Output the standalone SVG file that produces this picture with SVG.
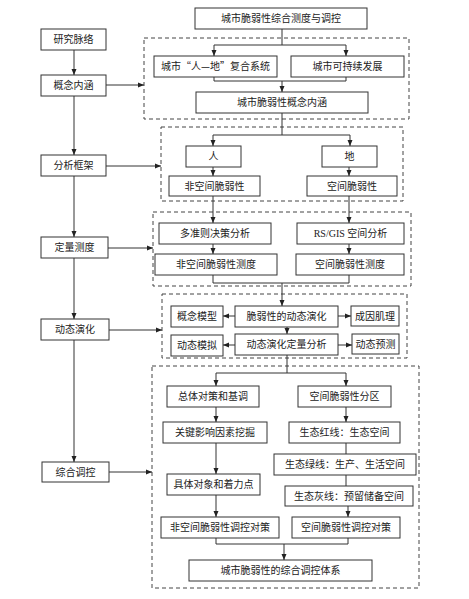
<svg xmlns="http://www.w3.org/2000/svg" width="469" height="599" viewBox="0 0 469 599">
<style>
.b{fill:#fff;stroke:#333;stroke-width:1}
.d{fill:none;stroke:#444;stroke-width:1;stroke-dasharray:4,3}
.t{font-family:"Liberation Serif","Noto Sans CJK SC",serif;font-size:10px;fill:#222;text-anchor:middle}
.cjk{font-family:"Noto Sans CJK SC",sans-serif}
.c path{fill:none;stroke:#333;stroke-width:1}
</style>
<defs>
<marker id="a" markerWidth="6" markerHeight="6" refX="6" refY="3" orient="auto" markerUnits="userSpaceOnUse">
<path d="M0,0.5 L6,3 L0,5.5 Z" fill="#222"/>
</marker>
</defs>
<rect width="469" height="599" fill="#fff"/>
<g id="frames">
<rect class="d" x="144" y="38" width="265" height="81"/>
<rect class="d" x="161" y="127" width="242" height="74"/>
<rect class="d" x="153" y="212" width="258" height="74"/>
<rect class="d" x="162" y="294" width="245" height="64"/>
<rect class="d" x="152" y="366" width="267" height="222"/>
</g>
<g class="c" id="connectors">
<path d="M282 29V45M214 45H346"/>
<path d="M214 45V56" marker-end="url(#a)"/>
<path d="M346 45V56" marker-end="url(#a)"/>
<path d="M214 77V81H346V77"/>
<path d="M282 81V92" marker-end="url(#a)"/>
<path d="M282 113V135M213 135H350"/>
<path d="M213 135V146" marker-end="url(#a)"/>
<path d="M350 135V146" marker-end="url(#a)"/>
<path d="M213 167V176" marker-end="url(#a)"/>
<path d="M349 167V176" marker-end="url(#a)"/>
<path d="M213 196V223" marker-end="url(#a)"/>
<path d="M349 196V223" marker-end="url(#a)"/>
<path d="M213 244V254" marker-end="url(#a)"/>
<path d="M349 244V254" marker-end="url(#a)"/>
<path d="M213 275V283H349V275"/>
<path d="M282 283V306" marker-end="url(#a)"/>
<path d="M235 316H223" marker-end="url(#a)"/>
<path d="M338 316H351" marker-end="url(#a)"/>
<path d="M287 327V334" marker-end="url(#a)"/>
<path d="M235 345H223" marker-end="url(#a)"/>
<path d="M338 345H352" marker-end="url(#a)"/>
<path d="M287 355V373M216 373H346"/>
<path d="M216 373V386" marker-end="url(#a)"/>
<path d="M346 373V386" marker-end="url(#a)"/>
<path d="M216 407V422" marker-end="url(#a)"/>
<path d="M216 443V474" marker-end="url(#a)"/>
<path d="M216 495V517" marker-end="url(#a)"/>
<path d="M346 407V422" marker-end="url(#a)"/>
<path d="M346 443V454M346 475V486"/>
<path d="M348 506V517" marker-end="url(#a)"/>
<path d="M216 538V544H348V538"/>
<path d="M284 544V560" marker-end="url(#a)"/>
<path d="M74 50V75" marker-end="url(#a)"/>
<path d="M74 96V155" marker-end="url(#a)"/>
<path d="M74 176V237" marker-end="url(#a)"/>
<path d="M74 258V319" marker-end="url(#a)"/>
<path d="M74 340V462" marker-end="url(#a)"/>
<path d="M106 85H144" marker-end="url(#a)"/>
<path d="M106 166H161" marker-end="url(#a)"/>
<path d="M108 248H153" marker-end="url(#a)"/>
<path d="M109 330H162" marker-end="url(#a)"/>
<path d="M109 472H152" marker-end="url(#a)"/>
</g>
<g id="n1"><rect class="b" x="195" y="8" width="172" height="21"/><text class="t" x="281" y="22">城市脆弱性综合测度与调控</text></g>
<g id="n2"><rect class="b" x="41" y="29" width="65" height="21"/><text class="t" x="73.5" y="43">研究脉络</text></g>
<g id="n3"><rect class="b" x="41" y="75" width="65" height="21"/><text class="t" x="73.5" y="89">概念内涵</text></g>
<g id="n4"><rect class="b" x="154" y="56" width="123" height="21"/><text class="t cjk" x="215.5" y="70">城市“人—地”复合系统</text></g>
<g id="n5"><rect class="b" x="291" y="56" width="113" height="21"/><text class="t" x="347.5" y="70">城市可持续发展</text></g>
<g id="n6"><rect class="b" x="196" y="92" width="172" height="21"/><text class="t" x="282" y="106">城市脆弱性概念内涵</text></g>
<g id="n7"><rect class="b" x="41" y="155" width="65" height="21"/><text class="t" x="73.5" y="169">分析框架</text></g>
<g id="n8"><rect class="b" x="186" y="146" width="55" height="21"/><text class="t" x="213.5" y="160">人</text></g>
<g id="n9"><rect class="b" x="322" y="146" width="55" height="21"/><text class="t" x="349.5" y="160">地</text></g>
<g id="n10"><rect class="b" x="169" y="176" width="91" height="20"/><text class="t" x="214.5" y="189.5">非空间脆弱性</text></g>
<g id="n11"><rect class="b" x="307" y="176" width="90" height="20"/><text class="t" x="352" y="189.5">空间脆弱性</text></g>
<g id="n12"><rect class="b" x="41" y="237" width="67" height="21"/><text class="t" x="74.5" y="251">定量测度</text></g>
<g id="n13"><rect class="b" x="159" y="223" width="112" height="21"/><text class="t" x="215" y="237">多准则决策分析</text></g>
<g id="n14"><rect class="b" x="297" y="223" width="107" height="21"/><text class="t" x="350.5" y="237">RS/GIS 空间分析</text></g>
<g id="n15"><rect class="b" x="155" y="254" width="122" height="21"/><text class="t" x="216" y="268">非空间脆弱性测度</text></g>
<g id="n16"><rect class="b" x="296" y="254" width="108" height="21"/><text class="t" x="350" y="268">空间脆弱性测度</text></g>
<g id="n17"><rect class="b" x="41" y="319" width="68" height="21"/><text class="t" x="75" y="333">动态演化</text></g>
<g id="n18"><rect class="b" x="235" y="306" width="103" height="21"/><text class="t" x="286.5" y="320">脆弱性的动态演化</text></g>
<g id="n19"><rect class="b" x="171" y="306" width="52" height="21"/><text class="t" x="197" y="320">概念模型</text></g>
<g id="n20"><rect class="b" x="351" y="306" width="48" height="20"/><text class="t" x="375" y="319.5">成因肌理</text></g>
<g id="n21"><rect class="b" x="235" y="334" width="103" height="21"/><text class="t" x="286.5" y="348">动态演化定量分析</text></g>
<g id="n22"><rect class="b" x="171" y="335" width="52" height="21"/><text class="t" x="197" y="349">动态模拟</text></g>
<g id="n23"><rect class="b" x="352" y="334" width="47" height="20"/><text class="t" x="375.5" y="347.5">动态预测</text></g>
<g id="n24"><rect class="b" x="42" y="462" width="67" height="20"/><text class="t" x="75.5" y="475.5">综合调控</text></g>
<g id="n25"><rect class="b" x="167" y="386" width="92" height="21"/><text class="t" x="213" y="400">总体对策和基调</text></g>
<g id="n26"><rect class="b" x="298" y="386" width="93" height="21"/><text class="t" x="344.5" y="400">空间脆弱性分区</text></g>
<g id="n27"><rect class="b" x="163" y="422" width="104" height="21"/><text class="t" x="215" y="436">关键影响因素挖掘</text></g>
<g id="n28"><rect class="b" x="289" y="422" width="111" height="21"/><text class="t cjk" x="344.5" y="436">生态红线：生态空间</text></g>
<g id="n29"><rect class="b" x="274" y="454" width="142" height="21"/><text class="t cjk" x="345" y="468">生态绿线：生产、生活空间</text></g>
<g id="n30"><rect class="b" x="167" y="474" width="93" height="21"/><text class="t" x="213.5" y="488">具体对象和着力点</text></g>
<g id="n31"><rect class="b" x="285" y="486" width="128" height="20"/><text class="t cjk" x="349" y="499.5">生态灰线：预留储备空间</text></g>
<g id="n32"><rect class="b" x="161" y="517" width="118" height="21"/><text class="t" x="220" y="531">非空间脆弱性调控对策</text></g>
<g id="n33"><rect class="b" x="292" y="517" width="108" height="21"/><text class="t" x="346" y="531">空间脆弱性调控对策</text></g>
<g id="n34"><rect class="b" x="189" y="560" width="183" height="21"/><text class="t" x="280.5" y="574">城市脆弱性的综合调控体系</text></g>
</svg>
